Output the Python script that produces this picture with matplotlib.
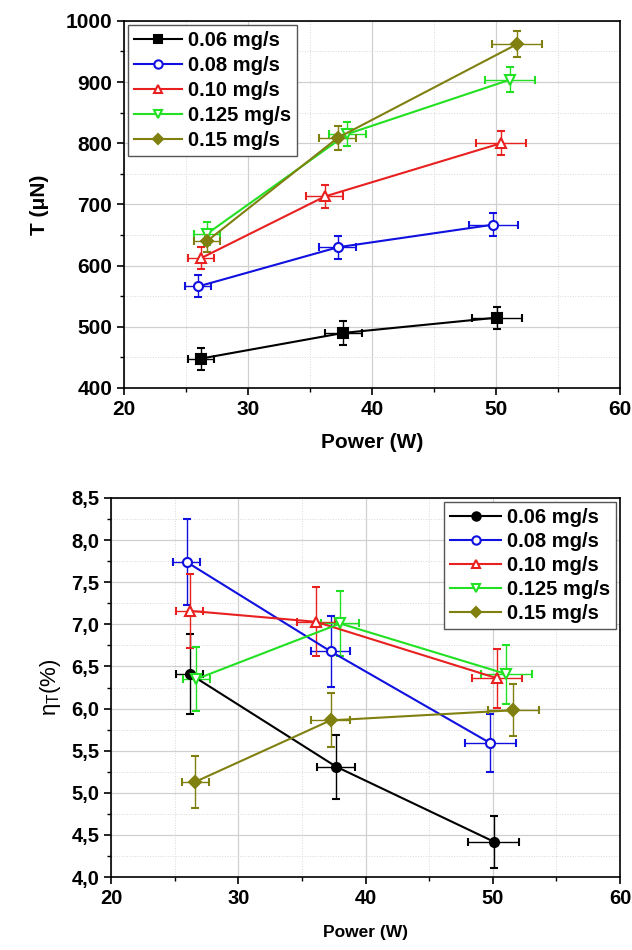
import matplotlib
matplotlib.use("Agg")
import matplotlib.pyplot as plt
from matplotlib.ticker import MultipleLocator, FuncFormatter
from matplotlib.lines import Line2D

plt.rcParams['font.family'] = ['Liberation Sans', 'DejaVu Sans']
plt.rcParams['mathtext.fontset'] = 'custom'
plt.rcParams['mathtext.rm'] = 'Liberation Sans'
plt.rcParams['mathtext.it'] = 'Liberation Sans'

labels = ["0.06 mg/s", "0.08 mg/s", "0.10 mg/s", "0.125 mg/s", "0.15 mg/s"]
colors = ["#000000", "#1010e0", "#e82020", "#22e022", "#808010"]

# Top: thrust
T_power = [[26.2, 37.7, 50.1], [26.0, 37.25, 49.8], [26.2, 36.2, 50.4],
           [26.7, 38.0, 51.15], [26.7, 37.25, 51.7]]
T_val = [[448, 490, 515], [566, 630, 667], [612, 713, 800],
         [652, 815, 904], [640, 809, 962]]
T_yerr = [[18, 19, 18], [18, 19, 19], [18, 19, 20], [19, 20, 21], [18, 20, 21]]
T_xerr = [[1.05, 1.5, 2.0], [1.05, 1.5, 2.0], [1.05, 1.5, 2.0], [1.05, 1.5, 2.0], [1.05, 1.5, 2.0]]
T_markers = ["s", "o", "^", "v", "D"]
T_fill = [True, False, False, False, True]

# Bottom: efficiency
E_power = [[26.18, 37.69, 50.08], [25.93, 37.24, 49.8], [26.18, 36.1, 50.33],
           [26.69, 38.0, 51.06], [26.6, 37.24, 51.6]]
E_val = [[6.41, 5.31, 4.42], [7.74, 6.68, 5.59], [7.16, 7.03, 6.36],
         [6.35, 7.01, 6.41], [5.13, 5.86, 5.98]]
E_yerr = [[0.48, 0.38, 0.31], [0.51, 0.42, 0.34], [0.44, 0.41, 0.35],
          [0.38, 0.39, 0.35], [0.31, 0.32, 0.31]]
E_xerr = [[1.05, 1.5, 2.0], [1.05, 1.5, 2.0], [1.05, 1.5, 2.0], [1.05, 1.5, 2.0], [1.05, 1.5, 2.0]]
E_markers = ["o", "o", "^", "v", "D"]
E_fill = [True, False, False, False, True]

fig = plt.figure(figsize=(6.32, 9.5), dpi=100)
ax1 = fig.add_axes([0.196, 0.5916, 0.785, 0.3864])
ax2 = fig.add_axes([0.176, 0.0768, 0.805, 0.399])


def draw(ax, P, V, YE, XE, markers, fills, ms):
    handles = []
    for i in range(len(labels)):
        c = colors[i]
        fc = c if fills[i] else "white"
        m_s = ms if markers[i] != "D" else ms - 0.5
        ax.errorbar(P[i], V[i], yerr=YE[i], xerr=XE[i], color=c, ecolor=c,
                    elinewidth=1.0, capsize=3, capthick=1.0, lw=1.5,
                    marker=markers[i], ms=m_s,
                    mfc=fc, mec=c, mew=1.5, zorder=3)
        handles.append(Line2D([], [], color=c, lw=1.5, marker=markers[i], ms=m_s - 0.5,
                              mfc=fc, mec=c, mew=1.5, label=labels[i]))
    return handles


def style(ax, fs):
    ax.set_xlim(20, 60)
    ax.xaxis.set_major_locator(MultipleLocator(10))
    ax.xaxis.set_minor_locator(MultipleLocator(5))
    ax.grid(True, which="major", color="#d0d0d0", lw=0.9, zorder=0)
    ax.grid(True, which="minor", color="#d8d8d8", lw=0.7, ls=":", zorder=0)
    ax.set_axisbelow(True)
    ax.tick_params(which="major", direction="out", length=5, width=1.2,
                   labelsize=fs)
    ax.tick_params(which="minor", direction="out", length=3, width=1.0)
    for s in ax.spines.values():
        s.set_linewidth(1.2)
    for t in ax.get_xticklabels() + ax.get_yticklabels():
        t.set_fontweight("bold")


h1 = draw(ax1, T_power, T_val, T_yerr, T_xerr, T_markers, T_fill, 6.5)
ax1.set_ylim(400, 1000)
ax1.yaxis.set_major_locator(MultipleLocator(100))
ax1.yaxis.set_minor_locator(MultipleLocator(50))
style(ax1, 15)
ax1.set_xlabel("Power (W)", fontsize=15, fontweight="bold", labelpad=10)
ax1.set_ylabel("T (\u03bcN)", fontsize=15, fontweight="bold", labelpad=12)
leg1 = ax1.legend(handles=h1, loc="upper left", prop={"weight": "bold", "size": 14.5},
                  handlelength=2.4, handletextpad=0.3, borderpad=0.3,
                  labelspacing=0.3, fancybox=False, framealpha=1,
                  edgecolor="#555555", borderaxespad=0.2)
leg1.get_frame().set_linewidth(1.0)

h2 = draw(ax2, E_power, E_val, E_yerr, E_xerr, E_markers, E_fill, 6.5)
ax2.set_ylim(4.0, 8.5)
ax2.yaxis.set_major_locator(MultipleLocator(0.5))
ax2.yaxis.set_minor_locator(MultipleLocator(0.25))
ax2.yaxis.set_major_formatter(FuncFormatter(lambda v, p: f"{v:.1f}".replace(".", ",")))
style(ax2, 14.5)
ax2.set_xlabel("Power (W)", fontsize=12.5, fontweight="bold", labelpad=12)
ax2.set_ylabel(r"$\eta_T$(%)", fontsize=16, labelpad=6)
leg2 = ax2.legend(handles=h2, loc="upper right", prop={"weight": "bold", "size": 14.5},
                  handlelength=2.5, handletextpad=0.3, borderpad=0.3,
                  labelspacing=0.25, fancybox=False, framealpha=1,
                  edgecolor="#555555", borderaxespad=0.2)
leg2.get_frame().set_linewidth(1.0)

fig.savefig("out.png", dpi=100)
